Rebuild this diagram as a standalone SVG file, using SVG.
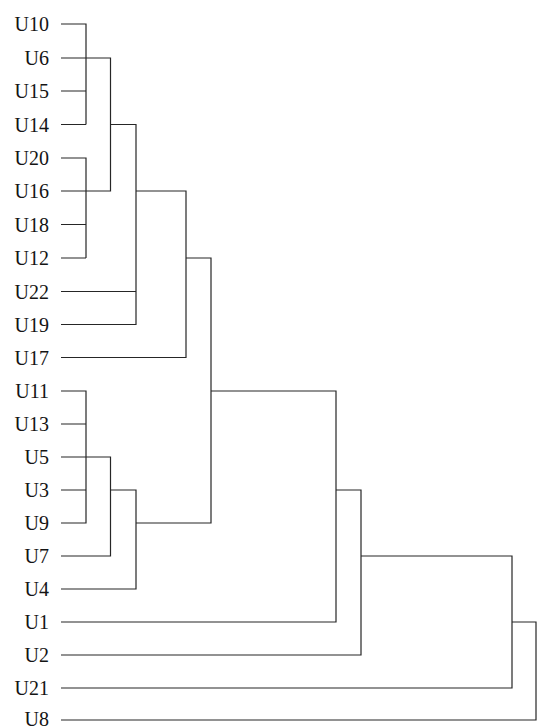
<svg xmlns="http://www.w3.org/2000/svg" width="537" height="727" viewBox="0 0 537 727">
  <style>
    .lbl { font-family: "Liberation Serif", "Times New Roman", serif; font-size: 20px; fill: #141414; text-anchor: end; }
    .link { fill: none; stroke: #262626; stroke-width: 1.2; }
  </style>
  <rect width="537" height="727" fill="#ffffff"/>

  <!-- leaf labels -->
  <g id="leaves">
    <g id="U10"><text class="lbl" x="49" y="31">U10</text></g>
    <g id="U6"><text class="lbl" x="49" y="65">U6</text></g>
    <g id="U15"><text class="lbl" x="49" y="98">U15</text></g>
    <g id="U14"><text class="lbl" x="49" y="131.5">U14</text></g>
    <g id="U20"><text class="lbl" x="49" y="165">U20</text></g>
    <g id="U16"><text class="lbl" x="49" y="198">U16</text></g>
    <g id="U18"><text class="lbl" x="49" y="231.5">U18</text></g>
    <g id="U12"><text class="lbl" x="49" y="265">U12</text></g>
    <g id="U22"><text class="lbl" x="49" y="298.5">U22</text></g>
    <g id="U19"><text class="lbl" x="49" y="331.5">U19</text></g>
    <g id="U17"><text class="lbl" x="49" y="364.5">U17</text></g>
    <g id="U11"><text class="lbl" x="49" y="398">U11</text></g>
    <g id="U13"><text class="lbl" x="49" y="431">U13</text></g>
    <g id="U5"><text class="lbl" x="49" y="464">U5</text></g>
    <g id="U3"><text class="lbl" x="49" y="497">U3</text></g>
    <g id="U9"><text class="lbl" x="49" y="530">U9</text></g>
    <g id="U7"><text class="lbl" x="49" y="563">U7</text></g>
    <g id="U4"><text class="lbl" x="49" y="596">U4</text></g>
    <g id="U1"><text class="lbl" x="49" y="629">U1</text></g>
    <g id="U2"><text class="lbl" x="49" y="662">U2</text></g>
    <g id="U21"><text class="lbl" x="49" y="695">U21</text></g>
    <g id="U8"><text class="lbl" x="49" y="726">U8</text></g>
  </g>

  <!-- dendrogram links -->
  <g id="links">
    <!-- upper block: {U10,U15,U14} and {U20,U18,U12} -->
    <path class="link" d="M61 24H86V124.5M61 91H86M61 124.5H86"/>
    <path class="link" d="M61 158H86V258M61 224.5H86M61 258H86"/>
    <!-- U6 + U16 -->
    <path class="link" d="M61 58H110.5V191H61"/>
    <!-- join with U22, U19 -->
    <path class="link" d="M110.5 124.5H136V324.5H61M61 291.5H136"/>
    <!-- join with U17 -->
    <path class="link" d="M136 191H186V357.5H61"/>
    <!-- lower block: {U11,U13,U3,U9} -->
    <path class="link" d="M61 391H86V523H61M61 424H86M61 490H86"/>
    <!-- U5 + U7 -->
    <path class="link" d="M61 457H110.5V556H61"/>
    <!-- join with U4 -->
    <path class="link" d="M110.5 490H136V589H61"/>
    <!-- upper and lower blocks -->
    <path class="link" d="M186 258H211V523H136"/>
    <!-- join with U1 -->
    <path class="link" d="M211 391H336V622H61"/>
    <!-- join with U2 -->
    <path class="link" d="M336 490H361V655H61"/>
    <!-- join with U21 -->
    <path class="link" d="M361 556H512V688H61"/>
    <!-- root: join with U8 -->
    <path class="link" d="M512 622H536V720H61"/>
  </g>
</svg>
